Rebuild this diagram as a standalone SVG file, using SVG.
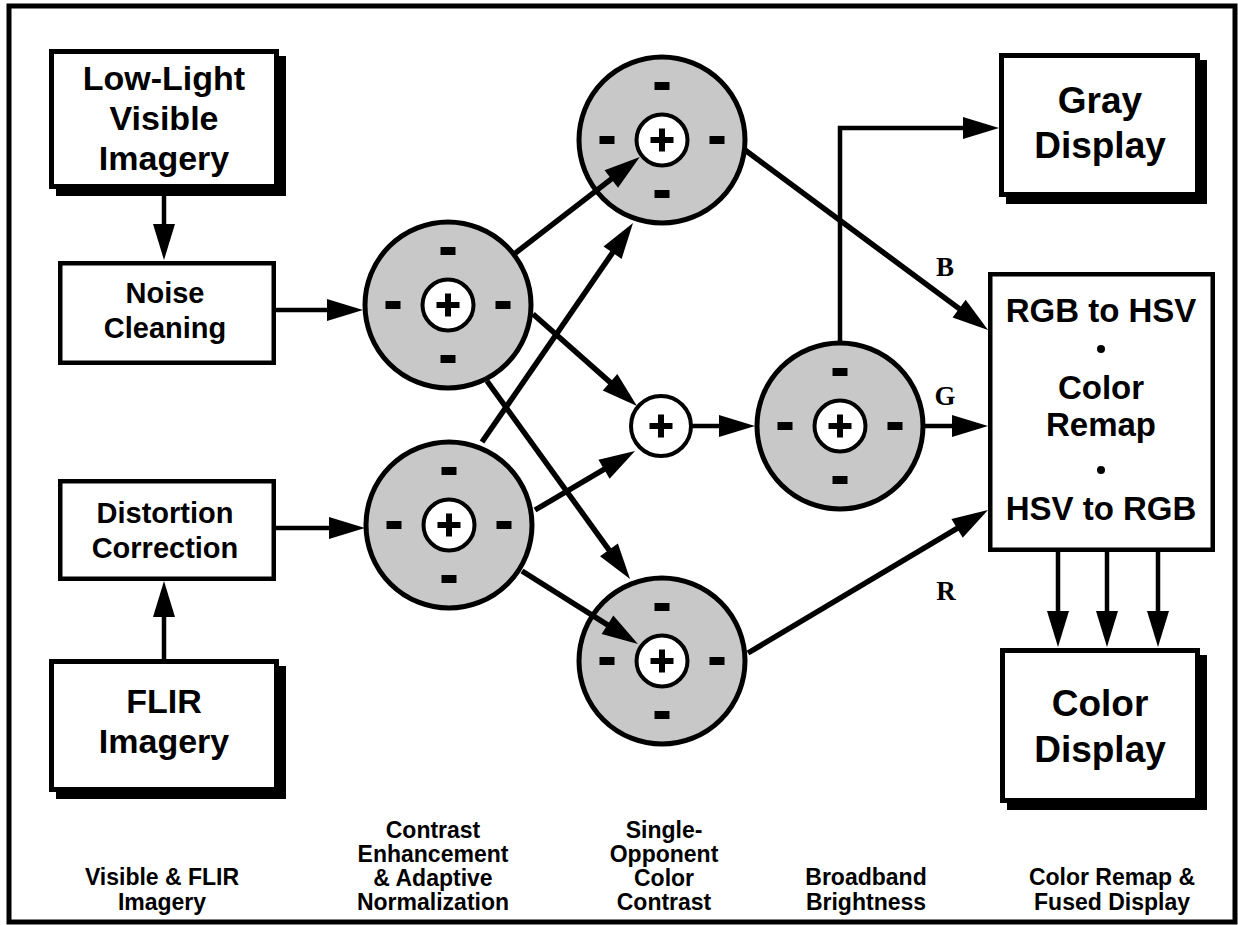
<svg xmlns="http://www.w3.org/2000/svg" xmlns:xlink="http://www.w3.org/1999/xlink" width="1238" height="925" viewBox="0 0 1238 925">
<style>
.frame{fill:#fff;stroke:#000;stroke-width:5}
.box{fill:#fff;stroke:#000;stroke-width:4.5}
.boxb{fill:#fff;stroke:#000;stroke-width:5}
.shadow{fill:#000}
.ring{fill:#c8c8c8;stroke:#000;stroke-width:5}
.core{fill:#fff;stroke:#000;stroke-width:4}
.t{font-family:"Liberation Sans",Arial,Helvetica,sans-serif;font-weight:bold;text-anchor:middle;fill:#000}
.big{font-size:34px}
.mid{font-size:29px}
.disp{font-size:37px}
.rgb{font-size:33px}
.lab{font-size:23px}
.ch{font-family:"Liberation Serif","Times New Roman",serif;font-weight:bold;font-size:27px;text-anchor:middle;fill:#000}
.c{stroke:#000;stroke-width:5.5;fill:none;marker-end:url(#ah)}
.o{stroke:#000;stroke-width:4.5;fill:none;marker-end:url(#ah)}
</style>
<defs>
<marker id="ah" markerUnits="userSpaceOnUse" viewBox="0 0 36 22" markerWidth="36" markerHeight="22" refX="24" refY="11" orient="auto" overflow="visible">
<path d="M0,0 L36,11 L0,22 Z" fill="#000"/>
</marker>
<g id="plus">
<rect x="-11.5" y="-3" width="23" height="6" fill="#000"/>
<rect x="-3" y="-11.5" width="6" height="23" fill="#000"/>
</g>
<g id="cell">
<circle class="ring" cx="0" cy="0" r="83"/>
<rect x="-7.5" y="-58" width="15" height="8" fill="#000"/>
<rect x="-7.5" y="50" width="15" height="8" fill="#000"/>
<rect x="-62.5" y="-4" width="15" height="8" fill="#000"/>
<rect x="47.5" y="-4" width="15" height="8" fill="#000"/>
<circle class="core" cx="0" cy="0" r="25.5"/>
<use xlink:href="#plus"/>
</g>
</defs>

<rect class="frame" x="9" y="6" width="1226" height="916"/>

<g id="lowlight">
<rect class="shadow" x="56" y="56" width="230" height="140"/>
<rect class="boxb" x="51.5" y="51.5" width="225" height="135"/>
<text class="t big" x="164" y="90">Low-Light</text>
<text class="t big" x="164" y="130">Visible</text>
<text class="t big" x="164" y="170">Imagery</text>
</g>

<g id="noise">
<rect class="box" x="60.25" y="263.25" width="213.5" height="99.5"/>
<text class="t mid" x="165" y="303">Noise</text>
<text class="t mid" x="165" y="338">Cleaning</text>
</g>

<g id="distortion">
<rect class="box" x="60.25" y="481.25" width="213.5" height="97.5"/>
<text class="t mid" x="165" y="523">Distortion</text>
<text class="t mid" x="165" y="558">Correction</text>
</g>

<g id="flir">
<rect class="shadow" x="56" y="666" width="230" height="133"/>
<rect class="boxb" x="51.5" y="661.5" width="225" height="128"/>
<text class="t big" x="164" y="713">FLIR</text>
<text class="t big" x="164" y="753">Imagery</text>
</g>

<g id="ce1"><use xlink:href="#cell" x="448" y="305"/></g>
<g id="ce2"><use xlink:href="#cell" x="449" y="525"/></g>
<g id="so1"><use xlink:href="#cell" x="662" y="140"/></g>
<g id="so2"><use xlink:href="#cell" x="662" y="661"/></g>
<g id="sum">
<circle class="core" cx="661" cy="426" r="30"/>
<use xlink:href="#plus" x="661" y="426"/>
</g>
<g id="broadband"><use xlink:href="#cell" x="840" y="426"/></g>

<g id="gray">
<rect class="shadow" x="1006" y="60" width="201" height="144"/>
<rect class="boxb" x="1001.5" y="55.5" width="196" height="139"/>
<text class="t disp" x="1100" y="113">Gray</text>
<text class="t disp" x="1100" y="158">Display</text>
</g>

<g id="remap">
<rect class="box" x="990.25" y="274.25" width="222.5" height="275.5"/>
<text class="t rgb" x="1101" y="322">RGB to HSV</text>
<circle cx="1101" cy="349" r="4" fill="#000"/>
<text class="t rgb" x="1101" y="399">Color</text>
<text class="t rgb" x="1101" y="436">Remap</text>
<circle cx="1101" cy="470" r="4" fill="#000"/>
<text class="t rgb" x="1101" y="520">HSV to RGB</text>
</g>

<g id="color">
<rect class="shadow" x="1007" y="655" width="200" height="155"/>
<rect class="boxb" x="1002.5" y="650.5" width="195" height="150"/>
<text class="t disp" x="1100" y="716">Color</text>
<text class="t disp" x="1100" y="762">Display</text>
</g>

<g id="connectors">
<line class="o" x1="164" y1="196" x2="164" y2="248"/>
<line class="o" x1="164" y1="659" x2="164" y2="593"/>
<line class="o" x1="276" y1="310" x2="351" y2="310"/>
<line class="o" x1="276" y1="528" x2="353" y2="528"/>
<line class="c" x1="515.3" y1="253.1" x2="630.3" y2="164.4"/>
<line class="c" x1="482" y1="442" x2="626.2" y2="232.9"/>
<line class="c" x1="533" y1="314" x2="628" y2="398.1"/>
<line class="c" x1="487" y1="381" x2="623" y2="569.3"/>
<line class="c" x1="535" y1="510" x2="624.7" y2="457.1"/>
<line class="c" x1="522" y1="571" x2="627.8" y2="637.6"/>
<line class="o" x1="691" y1="426" x2="743" y2="426"/>
<line class="c" x1="745" y1="150" x2="978.4" y2="322.9"/>
<line class="o" x1="923" y1="426" x2="976" y2="426"/>
<line class="c" x1="748" y1="653" x2="977.7" y2="516.1"/>
<path class="o" d="M840,342 V128 H987"/>
<line class="o" x1="1058" y1="552" x2="1058" y2="635"/>
<line class="o" x1="1107" y1="552" x2="1107" y2="635"/>
<line class="o" x1="1158" y1="552" x2="1158" y2="635"/>
<text class="ch" x="945" y="276">B</text>
<text class="ch" x="945" y="405">G</text>
<text class="ch" x="946" y="600">R</text>
</g>

<g id="labels">
<text class="t lab" x="162" y="885">Visible &amp; FLIR</text>
<text class="t lab" x="162" y="910">Imagery</text>
<text class="t lab" x="433" y="838">Contrast</text>
<text class="t lab" x="433" y="862">Enhancement</text>
<text class="t lab" x="433" y="886">&amp; Adaptive</text>
<text class="t lab" x="433" y="910">Normalization</text>
<text class="t lab" x="664" y="838">Single-</text>
<text class="t lab" x="664" y="862">Opponent</text>
<text class="t lab" x="664" y="886">Color</text>
<text class="t lab" x="664" y="910">Contrast</text>
<text class="t lab" x="866" y="885">Broadband</text>
<text class="t lab" x="866" y="910">Brightness</text>
<text class="t lab" x="1112" y="885">Color Remap &amp;</text>
<text class="t lab" x="1112" y="910">Fused Display</text>
</g>
</svg>
